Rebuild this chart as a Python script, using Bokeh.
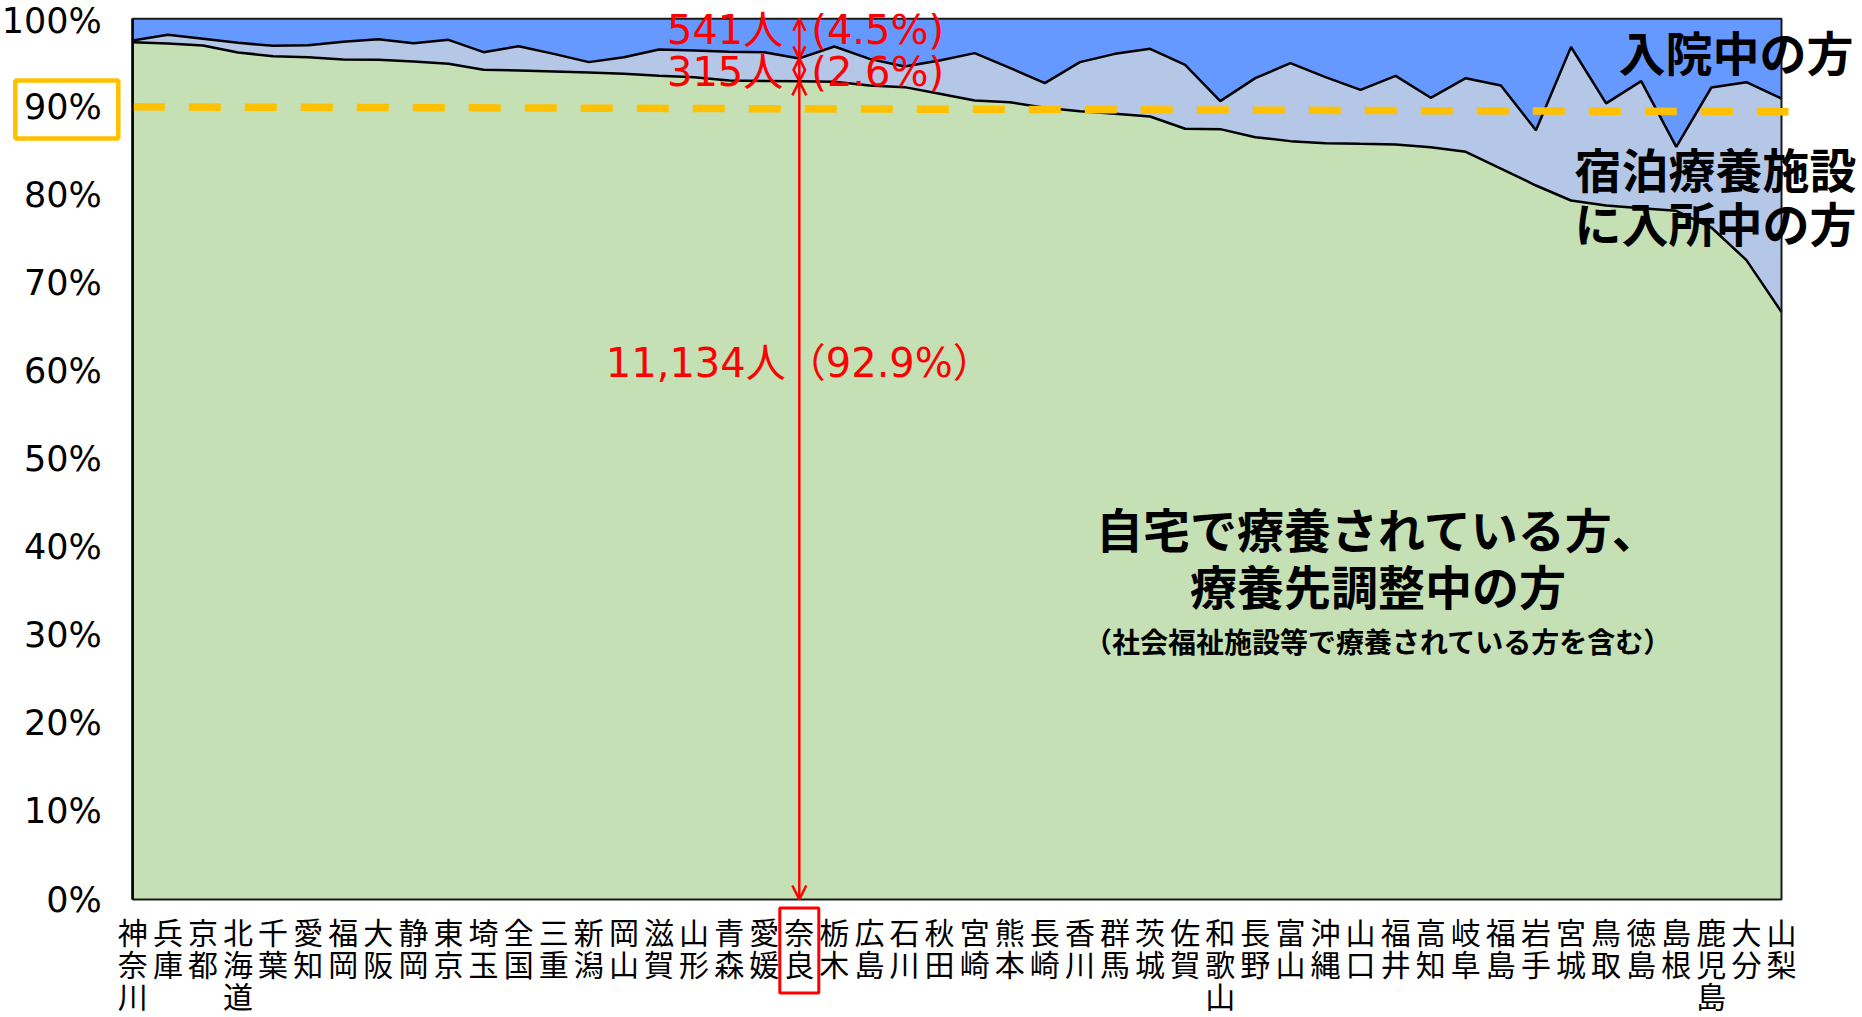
import numpy as np
from bokeh.plotting import figure
from bokeh.models import Label, Arrow, OpenHead, FixedTicker, ColumnDataSource, Range1d
from bokeh.embed import file_html
from bokeh.resources import INLINE

# ---------------- data ----------------
prefectures = ["神奈川", "兵庫", "京都", "北海道", "千葉", "愛知", "福岡", "大阪", "静岡", "東京",
               "埼玉", "全国", "三重", "新潟", "岡山", "滋賀", "山形", "青森", "愛媛", "奈良",
               "栃木", "広島", "石川", "秋田", "宮崎", "熊本", "長崎", "香川", "群馬", "茨城",
               "佐賀", "和歌山", "長野", "富山", "沖縄", "山口", "福井", "高知", "岐阜", "福島",
               "岩手", "宮城", "鳥取", "徳島", "島根", "鹿児島", "大分", "山梨"]

# 自宅で療養されている方、療養先調整中の方 (%)
home_pct = [97.35, 97.20, 96.97, 96.17, 95.76, 95.64, 95.38, 95.34, 95.15, 94.89,
            94.21, 94.13, 94.02, 93.90, 93.75, 93.52, 93.37, 93.00, 92.95, 92.90,
            92.85, 92.43, 92.24, 91.48, 90.72, 90.53, 89.89, 89.51, 89.21, 88.91,
            87.51, 87.47, 86.56, 86.11, 85.88, 85.80, 85.73, 85.42, 84.90, 83.00,
            81.07, 79.37, 78.80, 78.50, 78.20, 76.30, 72.60, 66.70]
# 宿泊療養施設に入所中の方 (%)
hotel_pct = [0.19, 0.98, 0.76, 1.10, 1.17, 1.37, 2.01, 2.35, 2.08, 2.72,
             2.00, 2.76, 2.00, 1.18, 1.89, 2.99, 3.03, 3.25, 3.26, 2.60,
             4.00, 3.02, 2.34, 3.79, 5.38, 3.90, 2.80, 5.57, 6.81, 7.68,
             7.26, 3.18, 6.70, 8.85, 7.49, 6.13, 7.79, 5.61, 8.36, 9.43,
             6.28, 17.43, 11.60, 14.42, 7.25, 15.90, 20.20, 24.25]
# 入院中の方 (%)
hosp_pct = [2.46, 1.82, 2.27, 2.73, 3.07, 2.99, 2.61, 2.31, 2.77, 2.39,
            3.79, 3.11, 3.98, 4.92, 4.36, 3.49, 3.60, 3.75, 3.79, 4.50,
            3.15, 4.55, 5.42, 4.73, 3.90, 5.57, 7.31, 4.92, 3.98, 3.41,
            5.23, 9.35, 6.74, 5.04, 6.63, 8.07, 6.48, 8.97, 6.74, 7.57,
            12.65, 3.20, 9.60, 7.08, 14.55, 7.80, 7.20, 9.05]

y_ticks = [0, 10, 20, 30, 40, 50, 60, 70, 80, 90, 100]
y_tick_labels = ["0%", "10%", "20%", "30%", "40%", "50%", "60%", "70%", "80%", "90%", "100%"]
target_pct = 90
target_line_ends = [90.0, 89.45]

highlight = "奈良"
hl_home_text = "11,134人（92.9%）"
hl_hotel_people, hl_hotel_share = "315人", "(2.6%)"
hl_hosp_people, hl_hosp_share = "541人", "(4.5%)"

label_hosp = "入院中の方"
label_hotel = ["宿泊療養施設", "に入所中の方"]
label_home = ["自宅で療養されている方、", "療養先調整中の方"]
label_home_note = "（社会福祉施設等で療養されている方を含む）"

# ---------------- derived ----------------
n = len(prefectures)
x = np.arange(n)
lvl1 = np.array(home_pct)
lvl2 = lvl1 + np.array(hotel_pct)
lvl3 = lvl2 + np.array(hosp_pct)
src = ColumnDataSource(dict(x=x, zero=np.zeros(n), l1=lvl1, l2=lvl2, l3=lvl3))

CJK = "Noto Sans CJK JP"
LAT = "DejaVu Sans, Noto Sans CJK JP"
GREEN, LBLUE, BLUE = "#C5E0B4", "#B4C7E7", "#6699FF"

W, H = 1862, 1017
PL, PR, PT, PB = 132.3, 1781.0, 18.3, 899.0       # plot-area pixel edges
xs = (PR - PL) / (n - 1)
ys = (PB - PT) / 100.0

p = figure(width=W, height=H, min_border=0,
           x_range=Range1d(-PL / xs, (n - 1) + (W - PR) / xs),
           y_range=Range1d(-(H - PB) / ys, 100 + PT / ys),
           output_backend="svg", toolbar_location=None)
p.background_fill_color = "white"
p.border_fill_color = "white"
p.outline_line_color = None
p.grid.visible = False

p.varea(x="x", y1="zero", y2="l1", source=src, fill_color=GREEN)
p.varea(x="x", y1="l1", y2="l2", source=src, fill_color=LBLUE)
p.varea(x="x", y1="l2", y2="l3", source=src, fill_color=BLUE)
p.line(x="x", y="l1", source=src, line_color="black", line_width=2.5)
p.line(x="x", y="l2", source=src, line_color="black", line_width=2.5)
# plot-area border
p.quad(left=[0], right=[n - 1], bottom=[0], top=[100], fill_color=None,
       line_color="#1a1a1a", line_width=2)

# target dashed line
p.line(x=[0, n - 1 + 0.2], y=target_line_ends, line_color="#FFC000", line_width=7.5,
       line_dash="32 24")

# axes
p.xaxis.visible = False
ya = p.yaxis[0]
ya.fixed_location = 0
ya.bounds = (0, 100)
ya.ticker = FixedTicker(ticks=y_ticks)
ya.major_label_overrides = {t: lab for t, lab in zip(y_ticks, y_tick_labels)}
ya.major_label_text_font = LAT
ya.major_label_text_font_size = "35px"
ya.major_label_text_color = "black"
ya.major_tick_line_color = None
ya.minor_tick_line_color = None
ya.axis_line_color = "black"
ya.axis_line_width = 2.5
ya.major_label_standoff = 25

# box around the 90% tick label
p.rect(x=[-66 / xs], y=[target_pct - 0.3], width=103, height=58, width_units="screen",
       height_units="screen", fill_color=None, line_color="#FFC000", line_width=4.5)

# category labels (vertical text)
hi = prefectures.index(highlight)
for i, name in enumerate(prefectures):
    p.add_layout(Label(x=i, y=0, y_offset=-9, text="\n".join(name), text_align="center",
                       text_baseline="top", text_font=CJK, text_font_size="30px",
                       text_line_height=0.73, text_color="black"))
# red box around the highlighted category
p.rect(x=[hi], y=[-(950 - PB) / ys], width=39, height=85, width_units="screen",
       height_units="screen", fill_color=None, line_color="red", line_width=3)

# highlight arrows / labels
def dbl_arrow(y0, y1, size):
    p.add_layout(Arrow(start=OpenHead(size=size, line_color="red", line_width=2.5),
                       end=OpenHead(size=size, line_color="red", line_width=2.5),
                       x_start=hi, y_start=y0, x_end=hi, y_end=y1,
                       line_color="red", line_width=2.5))
dbl_arrow(0, lvl1[hi], 14)
dbl_arrow(lvl1[hi], lvl2[hi], 12)
dbl_arrow(lvl2[hi], lvl3[hi], 12)

red = dict(text_font=LAT, text_font_size="40px", text_color="red", text_baseline="middle")
p.add_layout(Label(x=hi, y=lvl3[hi], y_offset=-11, x_offset=-16, text=hl_hosp_people,
                   text_align="right", **red))
p.add_layout(Label(x=hi, y=lvl3[hi], y_offset=-11, x_offset=12, text=hl_hosp_share,
                   text_align="left", **red))
p.add_layout(Label(x=hi, y=(lvl1[hi] + lvl2[hi]) / 2, y_offset=-2, x_offset=-16,
                   text=hl_hotel_people, text_align="right", **red))
p.add_layout(Label(x=hi, y=(lvl1[hi] + lvl2[hi]) / 2, y_offset=-2, x_offset=12,
                   text=hl_hotel_share, text_align="left", **red))
p.add_layout(Label(x=hi, y=60.95, text=hl_home_text, text_align="center", **red))

# region labels
blk = dict(text_font=CJK, text_font_size="47px", text_color="black",
           text_font_style="bold", text_baseline="middle")
p.add_layout(Label(x=n - 1, x_offset=72, y=96.4, text=label_hosp, text_align="right", **blk))
p.add_layout(Label(x=n - 1, x_offset=75, y=83.15, text=label_hotel[0], text_align="right", **blk))
p.add_layout(Label(x=n - 1, x_offset=75, y=77.0, text=label_hotel[1], text_align="right", **blk))
p.add_layout(Label(x=35.5, y=42.2, text=label_home[0], text_align="center", **blk))
p.add_layout(Label(x=35.5, y=35.8, text=label_home[1], text_align="center", **blk))
p.add_layout(Label(x=35.5, y=29.3, text=label_home_note, text_align="center",
                   text_font=CJK, text_font_size="28px", text_color="black",
                   text_font_style="bold", text_baseline="middle"))

open("out.html", "w").write(file_html(p, INLINE))
